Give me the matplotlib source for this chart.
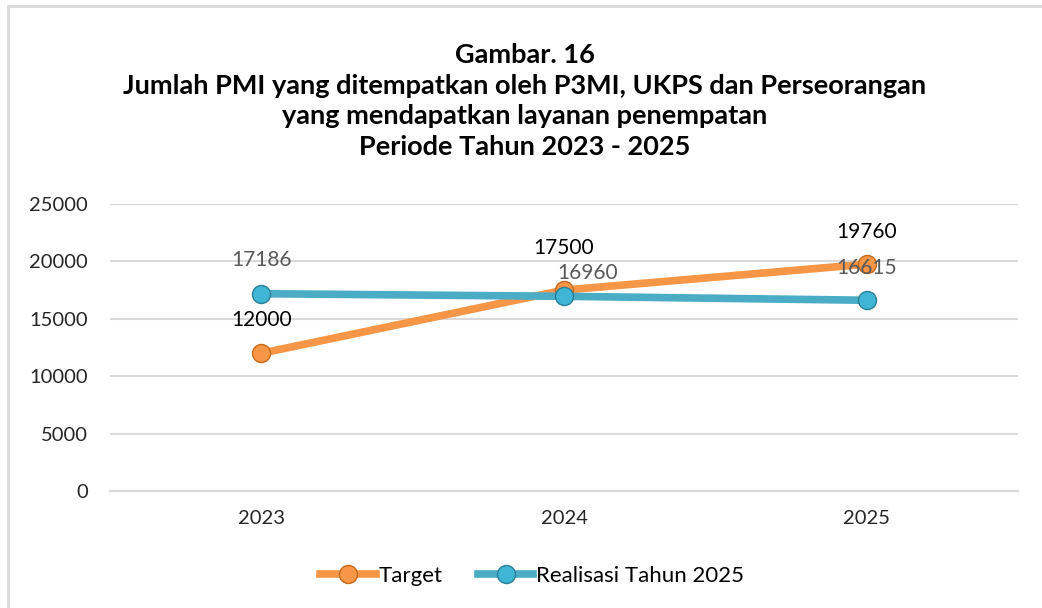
import matplotlib.pyplot as plt
from matplotlib.lines import Line2D
from matplotlib.patches import Rectangle

# data
years = ["2023", "2024", "2025"]
target = [12000, 17500, 19760]
realisasi = [17186, 16960, 16615]

title = ("Gambar. 16\n"
         "Jumlah PMI yang ditempatkan oleh P3MI, UKPS dan Perseorangan\n"
         "yang mendapatkan layanan penempatan\n"
         "Periode Tahun 2023 - 2025")

orange = "#f79646"
orange_edge = "#c86a1c"
blue = "#4bacc6"
blue_edge = "#2a7f96"
grid_col = "#d9d9d9"

plt.rcParams['font.family'] = ['Lato', 'DejaVu Sans']

fig = plt.figure(figsize=(10.42, 6.08), dpi=100)
ax = fig.add_axes([110 / 1042, 1 - 491 / 608, 908 / 1042, 287 / 608])

x = list(range(len(years)))

# chart frame (only top and left edge visible in reference)
fig.patches.append(Rectangle((8 / 1042, -0.1), 1.2, (1 - 6 / 608) + 0.1,
                             transform=fig.transFigure, fill=False,
                             edgecolor=grid_col, linewidth=2, zorder=0))

ax.plot(x, target, color=orange, linewidth=5.5, solid_capstyle="round",
        marker="o", markersize=13, markerfacecolor=orange,
        markeredgecolor=orange_edge, markeredgewidth=1, zorder=3)
ax.plot(x, realisasi, color=blue, linewidth=5.5, solid_capstyle="round",
        marker="o", markersize=13, markerfacecolor="#3fb6d6",
        markeredgecolor=blue_edge, markeredgewidth=1, zorder=4)

# data labels (offsets in points, a couple nudged like the original)
target_off = [(0, 24), (0, 30), (0, 23)]
real_off = [(0, 24), (17, 17), (0, 23)]
for i, v in enumerate(target):
    ax.annotate(str(v), (i, v), xytext=target_off[i], textcoords="offset points",
                ha="center", va="center", fontsize=15, color="black")
for i, v in enumerate(realisasi):
    ax.annotate(str(v), (i, v), xytext=real_off[i], textcoords="offset points",
                ha="center", va="center", fontsize=15, color="#595959",
                zorder=5)

ax.set_xlim(-0.5, 2.5)
ax.set_ylim(0, 25000)
ax.set_yticks([0, 5000, 10000, 15000, 20000, 25000])
ax.set_xticks(x)
ax.set_xticklabels(years)
ax.tick_params(axis="both", length=0, labelsize=14.5, labelcolor="#262626")
ax.tick_params(axis="x", pad=14)
ax.tick_params(axis="y", pad=16)
ax.grid(axis="y", color=grid_col, linewidth=1.5)
ax.set_axisbelow(True)
for s in ["top", "right", "left"]:
    ax.spines[s].set_visible(False)
ax.spines["bottom"].set_color(grid_col)
ax.spines["bottom"].set_linewidth(1.5)

fig.text(525 / 1042, 1 - 101 / 608, title, ha="center", va="center",
         fontsize=19.5, fontweight="bold", linespacing=1.33)

handles = [
    Line2D([], [], color=orange, linewidth=5.5, marker="o", markersize=13,
           markerfacecolor=orange, markeredgecolor=orange_edge),
    Line2D([], [], color=blue, linewidth=5.5, marker="o", markersize=13,
           markerfacecolor="#3fb6d6", markeredgecolor=blue_edge),
]
fig.legend(handles, ["Target", "Realisasi Tahun 2025"], loc="center",
           bbox_to_anchor=(532 / 1042, 1 - 576 / 608), ncol=2, frameon=False,
           fontsize=16, handlelength=2.5, handletextpad=0.1,
           columnspacing=1.6)

fig.savefig("out.png", dpi=100)
